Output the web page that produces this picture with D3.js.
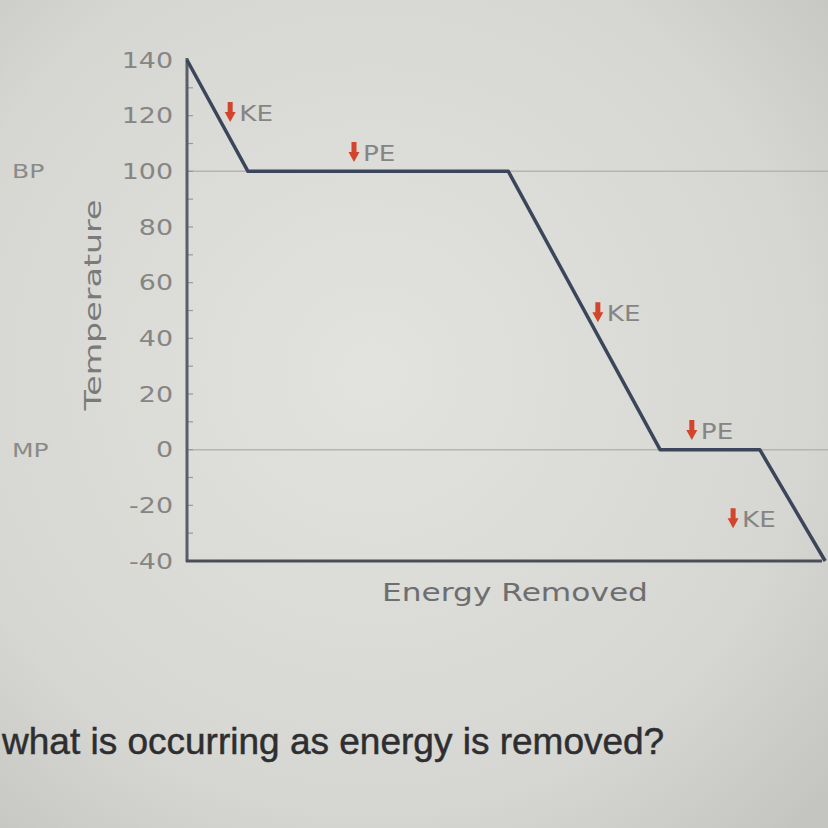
<!DOCTYPE html>
<html>
<head>
<meta charset="utf-8">
<script src="https://cdn.jsdelivr.net/npm/d3@7"></script>
<style>
  body { margin: 0; background: #d9d9d5; }
  svg { display: block; }
</style>
</head>
<body>
<div id="chart"></div>
<script>
// cooling curve points (energy removed, temperature)
var energy = [0, 9.6, 50.6, 74.5, 90.2, 100.5];
var temperature = [140, 100, 100, 0, 0, -40];
var yTicks = [140, 120, 100, 80, 60, 40, 20, 0, -20, -40];
var refLines = [100, 0];
var refLabels = ["BP", "MP"];
// red arrow notes
var noteText = ["KE", "PE", "KE", "PE", "KE"];
var noteX = [6.8, 26.3, 64.7, 79.5, 86];
var noteY = [121, 106.6, 49, 6.7, -25];

var W = 828, H = 828;
var SX = 1.25; // the photo stretches text sideways

var svg = d3.select("#chart").append("svg")
  .attr("width", W).attr("height", H);

var defs = svg.append("defs");
var g = defs.append("radialGradient").attr("id", "bg")
  .attr("cx", "45%").attr("cy", "45%").attr("r", "75%");
g.append("stop").attr("offset", "0%").attr("stop-color", "#e2e2de");
g.append("stop").attr("offset", "70%").attr("stop-color", "#d6d6d2");
g.append("stop").attr("offset", "100%").attr("stop-color", "#c4c4c0");
svg.append("rect").attr("width", W).attr("height", H).attr("fill", "url(#bg)");

var x = d3.scaleLinear().domain([0, 100]).range([187, 822]);
var y = d3.scaleLinear().domain([-40, 140]).range([561, 60]);

function label(parent, tx, ty, txt, size, fill, anchor, rot, sx) {
  var t = parent.append("g")
    .attr("transform", "translate(" + tx + "," + ty + ")" + (rot ? " rotate(" + rot + ")" : "") + " scale(" + (sx || SX) + ",1)");
  t.append("text")
    .attr("text-anchor", anchor || "start")
    .attr("font-family", "DejaVu Sans").attr("font-size", size)
    .attr("fill", fill)
    .text(txt);
  return t;
}

// reference lines
svg.selectAll(".ref").data(refLines).enter().append("line")
  .attr("x1", 187).attr("x2", W)
  .attr("y1", function(d) { return y(d) })
  .attr("y2", function(d) { return y(d) })
  .attr("stroke", "#b4b4b0").attr("stroke-width", 1.5);

refLabels.forEach(function(d, i) {
  label(svg, 12, y(refLines[i]) + 7, d, 20, "#8a8a88");
});

// y axis
var yAxis = d3.axisLeft(y).tickValues(yTicks).tickSize(0).tickPadding(12)
  .tickFormat(function(d) { return String(d) });
var ya = svg.append("g").attr("transform", "translate(187,0)").call(yAxis);
ya.select(".domain").remove();
ya.selectAll("text").remove();
ya.selectAll(".tick").each(function(d) {
  label(d3.select(this), -14, 7, String(d), 21.5, "#858583", "end");
});

// minor ticks
var minor = d3.range(-30, 140, 10);
svg.selectAll(".mt").data(minor).enter().append("line")
  .attr("x1", 187).attr("x2", 193)
  .attr("y1", function(d) { return y(d) })
  .attr("y2", function(d) { return y(d) })
  .attr("stroke", "#9a9a98").attr("stroke-width", 1.2);

// axes lines
svg.append("line").attr("x1", 187).attr("x2", 187).attr("y1", 58).attr("y2", 562)
  .attr("stroke", "#5a5e68").attr("stroke-width", 3);
svg.append("line").attr("x1", 186).attr("x2", 822).attr("y1", 561).attr("y2", 561)
  .attr("stroke", "#4a4e58").attr("stroke-width", 3);

// curve
var pts = energy.map(function(d, i) { return [d, temperature[i]] });
svg.append("path")
  .datum(pts)
  .attr("fill", "none")
  .attr("stroke", "#3c465a")
  .attr("stroke-width", 3.5)
  .attr("stroke-linejoin", "round")
  .attr("d", d3.line()
    .x(function(d) { return x(d[0]) })
    .y(function(d) { return y(d[1]) }));

// notes
noteText.forEach(function(d, i) {
  var n = svg.append("g")
    .attr("transform", "translate(" + x(noteX[i]) + "," + y(noteY[i]) + ")");
  n.append("path")
    .attr("d", "M-2.5,-11 L2.5,-11 L2.5,-1 L5.5,-1 L0,9 L-5.5,-1 L-2.5,-1 Z")
    .attr("fill", "#d2452c");
  label(n, 9, 8, d, 21, "#858583");
});

// axis titles
label(svg, 101, 305, "Temperature", 23, "#7a7a7a", "middle", -90, 1.45);
label(svg, 515, 601, "Energy Removed", 25, "#6e6e70", "middle");

svg.append("text")
  .attr("x", 2).attr("y", 754)
  .attr("font-family", "Liberation Sans").attr("font-size", 37)
  .attr("fill", "#2e2e30")
  .attr("stroke", "#2e2e30").attr("stroke-width", 0.5)
  .text("what is occurring as energy is removed?");
</script>
</body>
</html>
